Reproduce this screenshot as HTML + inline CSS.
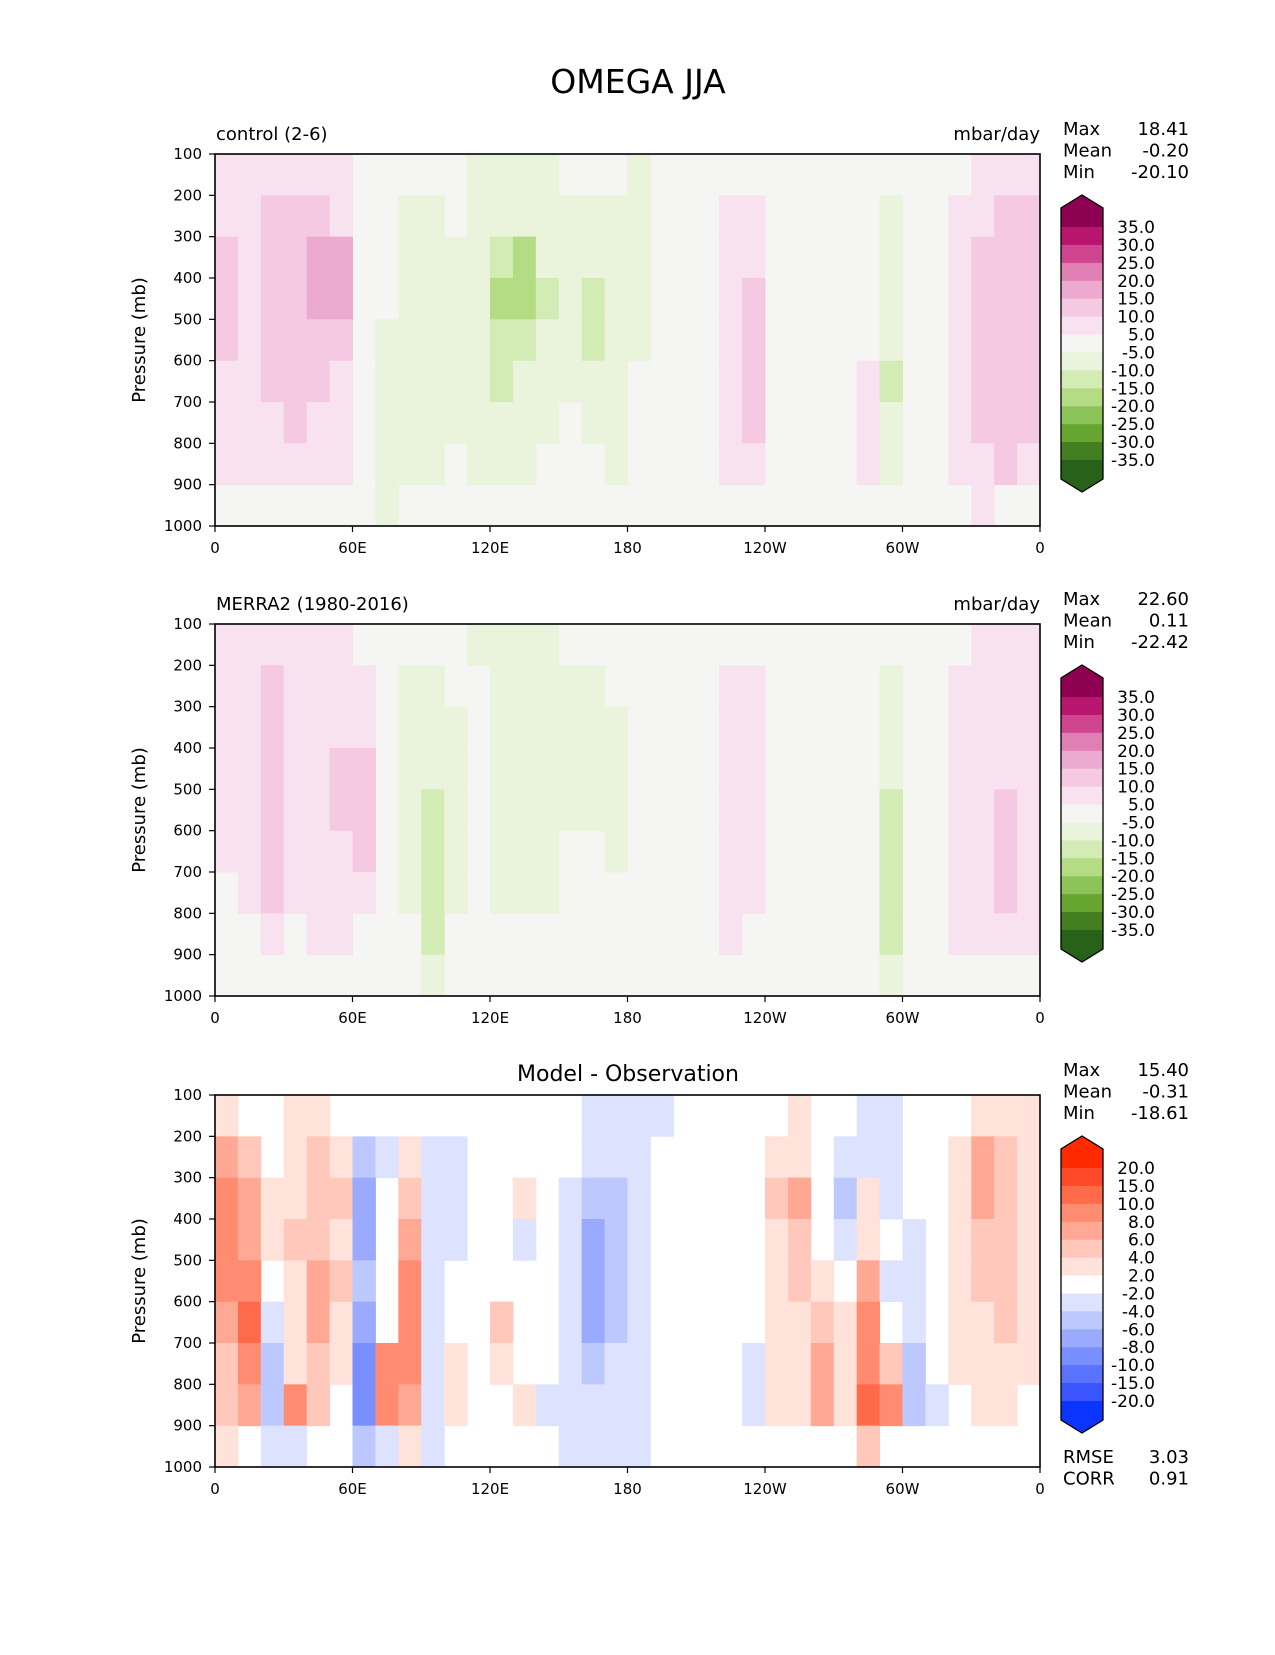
<!DOCTYPE html>
<html><head><meta charset="utf-8"><style>
body{margin:0;background:#fff;}
svg text{font-family:"DejaVu Sans","Liberation Sans",sans-serif;fill:#000;}
</style></head><body>
<svg id="fig" width="1275" height="1650" viewBox="0 0 1275 1650" xmlns="http://www.w3.org/2000/svg">
<text x="638" y="93" font-size="33" text-anchor="middle">OMEGA JJA</text>
</svg>
<script>
const lonTicks=[0,60,120,180,240,300,360];
const lonLabels=["0","60E","120E","180","120W","60W","0"];
const presTicks=[100,200,300,400,500,600,700,800,900,1000];
const rowLevels=[150,250,350,450,550,650,750,850,950];
const ctrlRows=[
[5,6,6,6,6,6,3,0,-3,-4,-5,-6,-6,-6,-6,-5,-5,-5,-6,-3,0,0,0,0,0,0,0,0,0,-2,0,0,2,6,6,6],
[8,8,10,12,12,8,2,-4,-8,-8,-5,-6,-10,-10,-8,-6,-6,-6,-6,-2,0,0,6,6,0,0,0,0,0,-8,0,0,6,8,12,12],
[12,8,10,12,16,16,3,-5,-8,-10,-6,-6,-14,-16,-10,-6,-10,-10,-6,-2,0,0,7,8,0,0,0,0,0,-10,0,0,8,12,12,12],
[12,8,10,12,16,16,3,-5,-10,-10,-6,-7,-16,-18,-12,-6,-12,-10,-6,-2,0,0,8,10,0,0,0,0,0,-10,0,0,8,12,12,12],
[10,8,10,12,12,10,3,-6,-10,-10,-6,-7,-14,-14,-10,-6,-12,-10,-6,-2,0,0,8,12,0,0,0,0,3,-10,0,0,6,12,12,12],
[8,8,10,12,10,8,-2,-6,-8,-10,-6,-7,-12,-10,-8,-6,-10,-10,-5,0,0,0,8,12,0,0,-4,0,6,-12,0,0,6,12,12,12],
[7,7,8,10,8,6,-2,-8,-6,-8,-6,-7,-10,-10,-6,-5,-6,-8,-5,0,0,0,8,12,0,0,0,0,8,-10,0,0,6,12,12,12],
[7,6,6,8,8,5,-2,-10,-6,-6,-5,-6,-8,-6,-5,-4,-5,-6,-5,0,0,0,6,8,0,0,0,0,8,-6,0,0,5,8,12,8],
[4,0,0,-3,0,0,0,-6,0,-4,0,-4,-4,0,0,0,0,0,0,0,0,0,0,0,0,0,0,0,3,3,0,0,0,6,4,0]];
const obsRows=[
[6,7,6,6,6,6,3,0,-3,-5,-5,-6,-6,-6,-6,-5,-5,-5,-5,-2,0,0,0,0,0,0,0,0,0,-3,0,0,3,6,6,6],
[6,6,10,8,8,8,6,0,-6,-8,-4,-4,-8,-8,-8,-6,-6,-5,-3,0,0,0,6,6,0,0,0,0,0,-8,0,0,6,6,6,6],
[6,6,10,8,8,8,8,0,-8,-8,-6,-4,-10,-10,-8,-6,-6,-6,-3,0,0,0,7,6,0,0,0,0,0,-8,0,0,6,6,6,6],
[6,6,12,8,8,10,12,0,-8,-10,-8,-4,-10,-10,-8,-6,-6,-6,-3,0,0,0,7,6,0,0,0,0,0,-10,0,0,6,6,6,6],
[6,6,12,8,8,10,12,-3,-8,-12,-8,-4,-10,-10,-8,-6,-6,-6,-3,0,0,0,7,8,0,0,0,0,0,-12,0,0,6,6,10,6],
[6,6,12,8,8,8,10,-3,-6,-14,-8,-4,-8,-8,-8,-5,-5,-6,-3,0,0,0,7,8,0,0,0,0,0,-14,0,0,6,6,12,6],
[4,5,10,6,6,8,6,0,-6,-14,-6,-4,-6,-6,-6,-5,-5,-5,-3,0,0,0,7,8,0,0,0,0,0,-14,0,0,6,6,10,6],
[3,4,6,-3,5,6,0,-4,-5,-12,-5,-4,-5,-5,-5,-4,-4,-4,-3,0,0,0,5,4,0,0,0,0,0,-12,0,0,5,6,6,5],
[0,0,0,0,0,0,0,-3,0,-6,0,0,0,0,0,0,0,0,0,0,0,0,0,0,0,0,0,0,0,-6,0,0,0,0,0,0]];
const diffRows=[
[3,0,0,3,3,0,-2,0,-2,0,-2,0,0,0,0,0,-3,-3,-3,-3,0,0,0,0,0,3,0,0,-3,-3,0,0,0,3,3,3],
[6,4,0,3,4,3,-6,-3,3,-3,-3,0,0,0,0,-2,-3,-3,-3,0,0,0,0,0,3,3,0,-4,-3,-3,0,0,3,6,5,3],
[8,6,3,3,5,4,-8,-2,4,-3,-3,-2,0,3,0,-3,-6,-5,-3,0,0,0,0,0,5,6,0,-6,3,-3,0,0,3,7,5,3],
[8,7,3,4,5,3,-8,-2,6,-4,-3,-2,0,-3,0,-3,-7,-6,-4,0,0,0,0,0,3,5,0,-4,3,0,-3,0,3,5,5,3],
[8,8,-2,3,6,4,-6,-2,8,-3,-2,0,0,-2,0,-3,-8,-6,-4,-2,0,0,0,0,3,4,3,-2,6,-3,-3,0,3,4,4,3],
[6,10,-4,3,6,3,-8,-2,9,-3,0,0,4,0,0,-3,-7,-6,-4,0,0,0,0,0,3,3,4,3,8,-2,-4,0,3,3,4,3],
[5,8,-6,3,4,3,-10,8,8,-3,3,0,3,0,0,-3,-6,-4,-3,0,0,0,0,-3,3,3,6,3,8,5,-6,0,3,3,3,3],
[4,6,-6,8,4,0,-10,8,6,-3,3,-2,0,3,-3,-3,-4,-4,-3,0,0,0,0,-3,3,3,6,3,10,8,-6,-3,0,3,2,0],
[3,-2,-3,-3,0,0,-5,-3,3,-3,0,-2,0,0,0,-3,-3,-3,-3,-2,0,0,0,0,0,0,0,0,4,0,-2,-2,0,0,0,0]];
const omegaLevels=[-35,-30,-25,-20,-15,-10,-5,5,10,15,20,25,30,35];
const omegaColors=["#27611a","#437f21","#66a52f","#8cc45a","#b3dc84","#d3ebb4","#eaf4dc","#f5f5f3","#f9e2ef","#f5c9e2","#edaad0","#e07fb3","#d0458f","#b8156e","#8e0152"];
const diffLevels=[-20,-15,-10,-8,-6,-4,-2,2,4,6,8,10,15,20];
const diffColors=["#0a35ff","#3a55ff","#5a73ff","#7a8fff","#9aabff","#bdc8ff","#dde3ff","#ffffff","#ffe2da","#ffc8bb","#ffa995","#ff8c70","#ff6a4a","#ff4a2a","#ff2a00"];
const ctrlStats=["18.41","-0.20","-20.10"];
const obsStats=["22.60","0.11","-22.42"];
const diffStats=["15.40","-0.31","-18.61"];
const diffMetrics=["3.03","0.91"];

const svg=document.getElementById('fig');
const NS="http://www.w3.org/2000/svg";
function mk(tag,attrs,parent){const e=document.createElementNS(NS,tag);for(const k in attrs)e.setAttribute(k,attrs[k]);(parent||svg).appendChild(e);return e;}
function txt(s,x,y,size,anchor,parent){const t=mk('text',{x:x,y:y,'font-size':size,'text-anchor':anchor||'start'},parent);t.textContent=s;return t;}
function colorFor(v,levels,colors){let i=0;while(i<levels.length&&v>=levels[i])i++;return colors[i];}
const L=215,R=1040;
function panel(top,rows,levels,colors,name,bg){
  const bottom=top+372;
  const xs=lon=>L+lon/360*(R-L);
  const ys=p=>top+(p-100)/900*(bottom-top);
  const g=mk('g',{});
  
  
  const b=mk('rect',{x:L,y:top,width:R-L,height:bottom-top,fill:bg},g);
  
  
  rows.forEach((row,ri)=>{
    row.forEach((v,ci)=>{
      const c=colorFor(v,levels,colors);
      if(c===bg)return;
      const lon0=ci*10, p0=rowLevels[ri]-50;
      const r=mk('rect',{x:xs(lon0),y:ys(p0),width:xs(lon0+10)-xs(lon0)+0.5,height:ys(p0+100)-ys(p0)+0.5,fill:c},g);
      
      
    });
  });
  const f=mk('rect',{x:L,y:top,width:R-L,height:bottom-top,fill:'none',stroke:'#000','stroke-width':1.6},g);
  
  
  presTicks.forEach(p=>{
    mk('line',{x1:L-6,x2:L,y1:ys(p),y2:ys(p),stroke:'#000','stroke-width':1.2},g);
    const t=txt(String(p),L-13,ys(p)+5,15,'end',g);
    
    
  });
  lonTicks.forEach((lo,i)=>{
    mk('line',{x1:xs(lo),x2:xs(lo),y1:bottom,y2:bottom+6,stroke:'#000','stroke-width':1.2},g);
    const t=txt(lonLabels[i],xs(lo),bottom+27,15,'middle',g);
    
    
  });
  const yl=txt('Pressure (mb)',0,0,18,'middle',g);
  yl.setAttribute('transform','translate(145,'+(top+186)+') rotate(-90)');
  
  
  return {top,bottom};
}
function stats(top,vals){
  const names=['Max','Mean','Min'];
  names.forEach((n,i)=>{
    const a=txt(n,1063,top-19+i*21.5,18,'start');
    
    
    const b=txt(vals[i],1189,top-19+i*21.5,18,'end');
    
    
  });
}
function colorbar(tip,levels,colors,labels,name){
  const x0=1061,x1=1103,xm=(x0+x1)/2;
  const first=tip+32,step=(233)/(levels.length-1),last=first+step*(levels.length-1);
  const g=mk('g',{});
  
  
  mk('polygon',{points:`${x0},${first} ${x0},${tip+13} ${xm},${tip} ${x1},${tip+13} ${x1},${first}`,fill:colors[colors.length-1]},g);
  for(let i=0;i<levels.length-1;i++){
    mk('rect',{x:x0,y:first+i*step,width:x1-x0,height:step+0.5,fill:colors[colors.length-2-i]},g);
  }
  mk('polygon',{points:`${x0},${last} ${x0},${last+19} ${xm},${last+32} ${x1},${last+19} ${x1},${last}`,fill:colors[0]},g);
  mk('polygon',{points:`${x0},${first} ${x0},${tip+13} ${xm},${tip} ${x1},${tip+13} ${x1},${last+19} ${xm},${last+32} ${x0},${last+19}`,fill:'none',stroke:'#000','stroke-width':1.3},g);
  for(let i=0;i<levels.length;i++){
    const t=txt(labels[levels.length-1-i],1155,first+i*step+6,17,'end',g);
    
    
  }
}
const omegaLabels=omegaLevels.map(v=>v.toFixed(1));
const diffLabelsTxt=diffLevels.map(v=>v.toFixed(1));

panel(154,ctrlRows,omegaLevels,omegaColors,'control','#f5f5f3');
let t=txt('control (2-6)',216,140,18);  
t=txt('mbar/day',1040,140,18,'end');  
stats(154,ctrlStats); colorbar(195,omegaLevels,omegaColors,omegaLabels,'control-colorbar');

panel(624,obsRows,omegaLevels,omegaColors,'merra2','#f5f5f3');
t=txt('MERRA2 (1980-2016)',216,610,18);  
t=txt('mbar/day',1040,610,18,'end');  
stats(624,obsStats); colorbar(665,omegaLevels,omegaColors,omegaLabels,'merra2-colorbar');

panel(1095,diffRows,diffLevels,diffColors,'difference','#ffffff');
t=txt('Model - Observation',628,1081,22,'middle');  
stats(1095,diffStats); colorbar(1136,diffLevels,diffColors,diffLabelsTxt,'difference-colorbar');
['RMSE','CORR'].forEach((n,i)=>{
  const a=txt(n,1063,1463+i*21.5,18);
  
  
  const b=txt(diffMetrics[i],1189,1463+i*21.5,18,'end');
  
  
});
</script>
</body></html>
